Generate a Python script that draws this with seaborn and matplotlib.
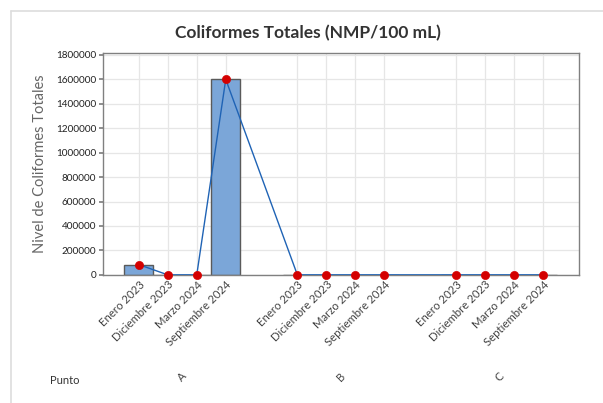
import matplotlib
matplotlib.use("Agg")
import matplotlib.pyplot as plt
from matplotlib.lines import Line2D
import seaborn as sns
import pandas as pd

# data
puntos = ["A", "B", "C"]
meses = ["Enero 2023", "Diciembre 2023", "Marzo 2024", "Septiembre 2024"]
valores_A = [84000, 0, 0, 1600000]
valores_B = [0, 0, 0, 0]
valores_C = [0, 0, 0, 0]

sns.set_theme(style="whitegrid")
plt.rcParams["font.family"] = ["Lato", "DejaVu Sans"]

rows = []
group_stride = 5.47
for g, (p, vals) in enumerate(zip(puntos, [valores_A, valores_B, valores_C])):
    for m, (mes, v) in enumerate(zip(meses, vals)):
        rows.append({"punto": p, "mes": mes, "valor": v, "pos": g * group_stride + m})
df = pd.DataFrame(rows)

fig = plt.figure(figsize=(6.03, 4.03), dpi=100)
ax = fig.add_axes([0.171, 0.318, 0.789, 0.5505])

sns.barplot(data=df, x="pos", y="valor", native_scale=True, width=1.0,
            color="#7BA6D8", saturation=1, edgecolor="#5a5a5a", linewidth=1.0,
            errorbar=None, ax=ax, zorder=2)
sns.lineplot(data=df, x="pos", y="valor", color="#1F63B5", linewidth=1.0,
             ax=ax, zorder=3, sort=False)
sns.scatterplot(data=df, x="pos", y="valor", color="#D40000", s=35,
                edgecolor="#D40000", ax=ax, zorder=4, clip_on=False)

ax.set_xlim(-1.23, 3 + 2 * group_stride + 1.24)
ax.set_ylim(0, 1816000)
ax.set_yticks(range(0, 1800001, 200000))
ax.set_yticklabels([str(v) for v in range(0, 1800001, 200000)], fontsize=7.2,
                   color="#222222")
ax.set_xticks(df["pos"])
ax.set_xticklabels(df["mes"], rotation=45, ha="right", rotation_mode="anchor",
                   fontsize=8.2, color="#444444")
ax.tick_params(axis="x", pad=3, length=0)
ax.tick_params(axis="y", pad=2, length=3, color="#808080", left=True)
ax.set_xlabel("")
ax.set_ylabel("Nivel de Coliformes Totales", fontsize=10.5, color="#666666", labelpad=6)
ax.grid(True, color="#E6E6E6", linewidth=0.9)
for s in ax.spines.values():
    s.set_color("#808080")
    s.set_linewidth(1.0)

fig.text(308 / 603, 1 - 33 / 403, "Coliformes Totales (NMP/100 mL)", fontsize=12.5,
         fontweight="bold", color="#333333", ha="center", va="center")

# group labels below the month labels
for g, p in enumerate(puntos):
    cx = g * group_stride + 1.5
    ax.text(cx, -0.46, p, transform=ax.get_xaxis_transform(), rotation=45,
            ha="center", va="center", fontsize=8, color="#444444")
fig.text(50 / 603, 1 - 380 / 403, "Punto", fontsize=8, color="#333333",
         ha="left", va="center")

# outer frame
fig.add_artist(Line2D([11 / 603, 1.0], [1 - 11 / 403] * 2, color="#DDDDDD", linewidth=1.2))
fig.add_artist(Line2D([11 / 603] * 2, [0.0, 1 - 11 / 403], color="#DDDDDD", linewidth=1.2))

fig.savefig("out.png", dpi=100, facecolor="white")
